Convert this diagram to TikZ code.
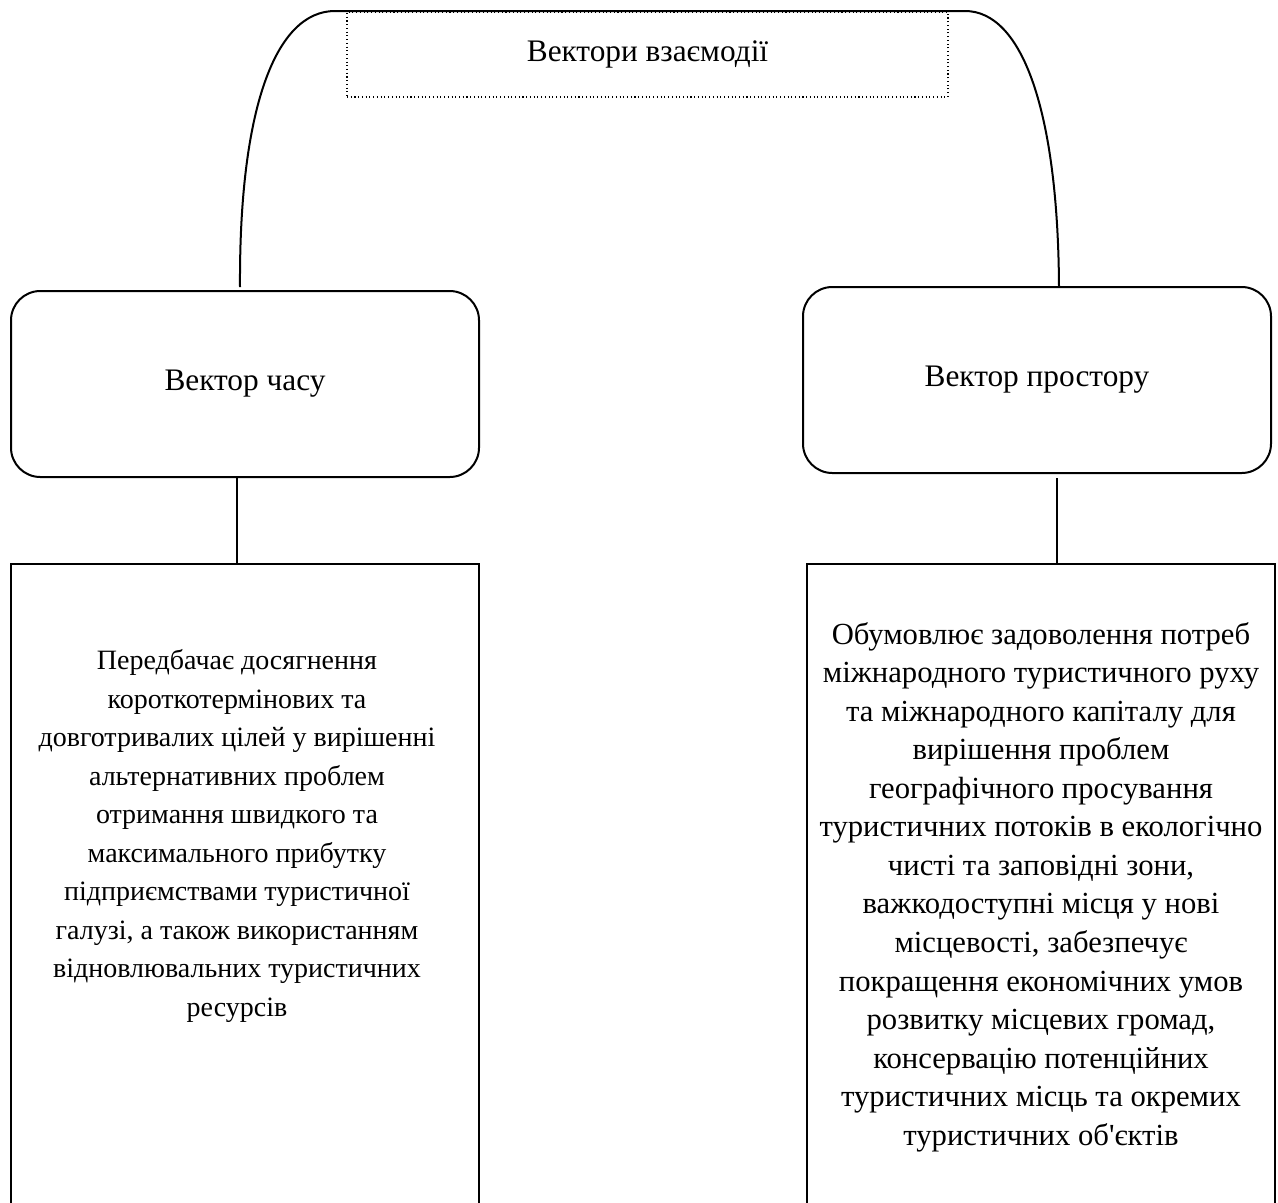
\documentclass[tikz,border=0pt]{standalone}
\usepackage{fontspec}
\setmainfont{Liberation Serif}
\begin{document}
\begin{tikzpicture}[x=0.75pt,y=-0.75pt,
  line/.style={line width=1.5pt,black},
  roundbox/.style={draw,line width=1.5pt,rounded corners=22pt,minimum width=351pt,minimum height=139.5pt,inner sep=0pt,align=center,font=\fontsize{23.5pt}{28.9pt}\selectfont},
  tallbox/.style={draw,line width=1.5pt,minimum width=351pt,minimum height=492pt,inner sep=0pt},
  bodytext/.style={align=center,inner sep=0pt,font=\fontsize{23pt}{28.9pt}\selectfont},
  titlebox/.style={draw,dotted,line width=0.8pt,minimum width=450.75pt,minimum height=63.75pt,inner sep=0pt,font=\fontsize{23.5pt}{28.9pt}\selectfont}]
\useasboundingbox (0,0) rectangle (1278,1203);
\clip (0,0) rectangle (1278,1203);
% title
\node[titlebox] (title) at (647.5,54.5) {Вектори взаємодії};
% upper boxes
\node[roundbox] (lt) at (245,384) {Вектор часу};
\node[roundbox] (rt) at (1037,380) {Вектор простору};
% lower boxes
\node[tallbox] (lb) at (244.5,892) {};
\node[tallbox] (rb) at (1041,891.5) {};
\node[bodytext,font=\fontsize{21pt}{28.9pt}\selectfont] (lbt) at (237,836) {Передбачає досягнення\\короткотермінових та\\довготривалих цілей у вирішенні\\альтернативних проблем\\отримання швидкого та\\максимального прибутку\\підприємствами туристичної\\галузі, а також використанням\\відновлювальних туристичних\\ресурсів};
\node[bodytext] (rbt) at (1041,887) {Обумовлює задоволення потреб\\міжнародного туристичного руху\\та міжнародного капіталу для\\вирішення проблем\\географічного просування\\туристичних потоків в екологічно\\чисті та заповідні зони,\\важкодоступні місця у нові\\місцевості, забезпечує\\покращення економічних умов\\розвитку місцевих громад,\\консервацію потенційних\\туристичних місць та окремих\\туристичних об\textquotesingle єктів};
% arc over the title
\coordinate (la) at (240,287);
\coordinate (ra) at (1059,287);
\draw[line] (la) .. controls (239,110) and (275,11) .. (335,11) -- (965,11) .. controls (1022,11) and (1058,110) .. (ra);
% vertical connectors
\draw[line] (lt.south -| 237,0) -- (lb.north -| 237,0);
\draw[line] (1057,478) -- (rb.north -| 1057,0);
\end{tikzpicture}
\end{document}
